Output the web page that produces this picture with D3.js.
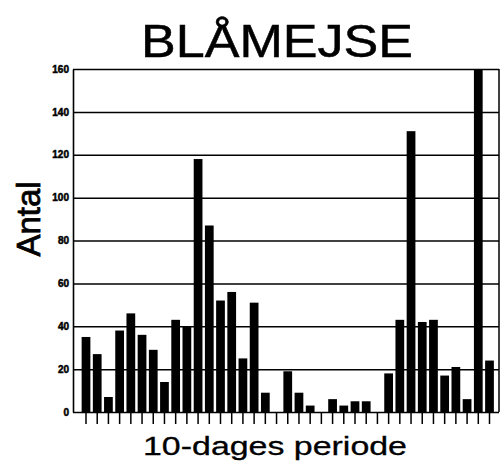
<!DOCTYPE html>
<html>
<head>
<meta charset="utf-8">
<script src="https://cdn.jsdelivr.net/npm/d3@7"></script>
<style>
  body { margin: 0; background: #fff; }
  text { font-family: "Liberation Sans", Arial, sans-serif; fill: #000; }
</style>
</head>
<body>
<div id="chart"></div>
<script>
// 10-day periods, counts
var periods = d3.range(1, 38);
var antal = [35, 27, 7, 38, 46, 36, 29, 14, 43, 40, 118, 87, 52, 56, 25, 51, 9,
             0, 19, 9, 3, 0, 6, 3, 5, 5, 0, 18, 43, 131, 42, 43, 17, 21, 6, 160, 24];
var yTicks = [0, 20, 40, 60, 80, 100, 120, 140, 160];

var titel = "BLÅMEJSE";
var xTitel = "10-dages periode";
var yTitel = "Antal";

function base() {
    var w = 501, h = 467;
    var left = 73, right = 499, top = 69, bottom = 412;

    var svg = d3.select("#chart")
        .append("svg")
        .attr("width", w)
        .attr("height", h);

    var x = d3.scaleBand()
        .domain(periods)
        .range([80.4, 495.1])
        .paddingInner(0.22)
        .paddingOuter(0.11);

    var y = d3.scaleLinear()
        .domain([0, 160])
        .range([bottom, top]);

    // gridlines + y labels
    var yAxis = svg.append("g")
        .attr("transform", "translate(" + left + ",0)")
        .call(d3.axisLeft(y)
            .tickValues(yTicks)
            .tickSizeInner(-(right - left))
            .tickSizeOuter(0)
            .tickPadding(4));
    yAxis.select(".domain").attr("stroke", "#000").attr("stroke-width", 1.6);
    yAxis.selectAll(".tick line").attr("stroke", "#000").attr("stroke-width", 1.5);
    yAxis.selectAll(".tick text")
        .style("font-size", "10px")
        .style("font-weight", "bold")
        .attr("stroke", "#000")
        .attr("stroke-width", 0.5);

    // right frame
    svg.append("line")
        .attr("x1", right).attr("x2", right)
        .attr("y1", y(160)).attr("y2", y(0))
        .attr("stroke", "#000").attr("stroke-width", 1.5);

    // bars
    svg.selectAll("rect.bar")
        .data(antal)
        .enter()
        .append("rect")
        .attr("class", "bar")
        .attr("x", function(d, i) { return x(periods[i]); })
        .attr("y", function(d) { return y(d); })
        .attr("width", x.bandwidth())
        .attr("height", function(d) { return y(0) - y(d); })
        .attr("fill", "#000");

    // x ticks under each bar
    var xAxis = svg.append("g")
        .attr("transform", "translate(0," + bottom + ")")
        .call(d3.axisBottom(x).tickSize(12).tickFormat(""));
    xAxis.select(".domain").remove();
    xAxis.selectAll(".tick line").attr("stroke", "#000").attr("stroke-width", 1.5);

    // titles (a thin stroke to get the heavier scanned look)
    svg.append("text")
        .attr("x", 141).attr("y", 57)
        .attr("textLength", 272)
        .attr("lengthAdjust", "spacingAndGlyphs")
        .attr("stroke", "#000").attr("stroke-width", 0.5)
        .style("font-size", "46px")
        .text(titel);

    svg.append("text")
        .attr("x", 143).attr("y", 455)
        .attr("textLength", 264)
        .attr("lengthAdjust", "spacingAndGlyphs")
        .attr("stroke", "#000").attr("stroke-width", 0.3)
        .style("font-size", "26px")
        .text(xTitel);

    svg.append("text")
        .attr("transform", "translate(40,219) rotate(-90)")
        .attr("text-anchor", "middle")
        .attr("stroke", "#000").attr("stroke-width", 0.8)
        .style("font-size", "33px")
        .text(yTitel);
}

window.onload = base;
</script>
</body>
</html>
